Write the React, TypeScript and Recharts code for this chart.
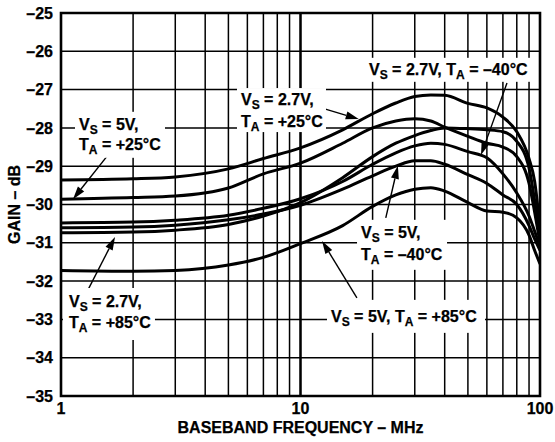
import React from "react";
import {
  LineChart,
  Line,
  XAxis,
  YAxis,
  CartesianGrid,
  ReferenceLine,
  ReferenceArea,
  ReferenceDot,
} from "recharts";

// gain vs baseband frequency, six supply/temperature corners
const freqs = [1, 2, 3, 5, 7, 10, 15, 20, 25, 30, 35, 40, 50, 60, 70, 80, 90, 95, 100];

const vs27Plus25 = [-29.36, -29.33, -29.28, -29.07, -28.8, -28.52, -28.05, -27.63, -27.35, -27.18, -27.14, -27.15, -27.36, -27.48, -27.72, -28.1, -28.8, -29.4, -30.6];
const vs5Plus25 = [-29.86, -29.82, -29.78, -29.57, -29.2, -28.92, -28.4, -28.0, -27.82, -27.76, -27.82, -27.98, -28.22, -28.4, -28.5, -28.75, -29.45, -30.2, -31.0];
const vs27Plus85 = [-30.74, -30.72, -30.67, -30.52, -30.3, -29.95, -29.3, -28.75, -28.4, -28.2, -28.07, -28.0, -28.02, -28.05, -28.1, -28.35, -29.05, -29.9, -30.9];
const vs27Minus40 = [-30.48, -30.46, -30.41, -30.28, -30.1, -29.85, -29.4, -28.95, -28.65, -28.47, -28.4, -28.43, -28.62, -28.78, -29.2, -29.7, -30.3, -30.7, -31.1];
const vs5Minus40 = [-30.61, -30.59, -30.54, -30.4, -30.25, -30.02, -29.6, -29.25, -29.0, -28.86, -28.86, -28.95, -29.22, -29.45, -29.75, -30.0, -30.55, -30.9, -31.2];
const vs5Plus85 = [-31.72, -31.74, -31.72, -31.58, -31.38, -31.02, -30.55, -30.05, -29.75, -29.6, -29.56, -29.65, -29.95, -30.17, -30.2, -30.35, -30.8, -31.2, -31.55];

const xTicks = [1, 2, 3, 4, 5, 6, 7, 8, 9, 10, 20, 30, 40, 50, 60, 70, 80, 90, 100];
const yTicks = [-35, -34, -33, -32, -31, -30, -29, -28, -27, -26, -25];

const rows = freqs.map((f, i) => ({
  f,
  a: vs27Plus25[i],
  b: vs5Plus25[i],
  c: vs27Plus85[i],
  d: vs27Minus40[i],
  e: vs5Minus40[i],
  f2: vs5Plus85[i],
}));

const FONT = "'Liberation Sans', Arial, Helvetica, sans-serif";

type Part = { v: string; s: string; rest: string };
type Note = { x: number; y: number; w: number; h: number; dx: number; lines: { dy: number; parts: Part[] }[] };

// label boxes, anchored at their top-left corner in data space
const notes: Note[] = [
  { x: 1.144, y: -27.58, w: 90, h: 46, dx: 4, lines: [
    { dy: 18, parts: [{ v: "V", s: "S", rest: " = 5V," }] },
    { dy: 38, parts: [{ v: "T", s: "A", rest: " = +25°C" }] },
  ] },
  { x: 5.43, y: -26.96, w: 89, h: 44, dx: 4, lines: [
    { dy: 17, parts: [{ v: "V", s: "S", rest: " = 2.7V," }] },
    { dy: 39, parts: [{ v: "T", s: "A", rest: " = +25°C" }] },
  ] },
  { x: 18.59, y: -26.17, w: 165, h: 24, dx: 4, lines: [
    { dy: 17, parts: [{ v: "V", s: "S", rest: " = 2.7V, " }, { v: "T", s: "A", rest: " = –40°C" }] },
  ] },
  { x: 17.22, y: -30.4, w: 90, h: 50, dx: 4, lines: [
    { dy: 18, parts: [{ v: "V", s: "S", rest: " = 5V," }] },
    { dy: 40, parts: [{ v: "T", s: "A", rest: " = –40°C" }] },
  ] },
  { x: 12.9, y: -32.49, w: 158, h: 33, dx: 4, lines: [
    { dy: 22, parts: [{ v: "V", s: "S", rest: " = 5V, " }, { v: "T", s: "A", rest: " = +85°C" }] },
  ] },
  { x: 1.019, y: -32.18, w: 92, h: 52, dx: 6, lines: [
    { dy: 19, parts: [{ v: "V", s: "S", rest: " = 2.7V," }] },
    { dy: 40, parts: [{ v: "T", s: "A", rest: " = +85°C" }] },
  ] },
];

// leader arrows: [from, tip]
const arrows = [
  [{ x: 1.57, y: -28.71 }, { x: 1.122, y: -29.86 }],
  [{ x: 11.83, y: -27.45 }, { x: 17.5, y: -27.77 }],
  [{ x: 72.8, y: -26.83 }, { x: 56.7, y: -28.71 }],
  [{ x: 22.7, y: -30.35 }, { x: 25.5, y: -28.99 }],
  [{ x: 1.296, y: -32.23 }, { x: 1.681, y: -30.85 }],
  [{ x: 17.2, y: -32.44 }, { x: 12.3, y: -30.95 }],
];

function NoteBox({ cx, cy, note }: any) {
  return (
    <g>
      <rect x={cx} y={cy} width={note.w} height={note.h} fill="#fff" />
      {note.lines.map((ln: any, i: number) => (
        <text
          key={i}
          x={cx + note.dx}
          y={cy + ln.dy}
          fontSize={16}
          fontWeight={700}
          fill="#000"
          stroke="#000"
          strokeWidth={0.25}
          fontFamily={FONT}
        >
          {ln.parts.map((p: Part, j: number) => (
            <React.Fragment key={j}>
              <tspan>{p.v}</tspan>
              <tspan dy={4} fontSize={12}>{p.s}</tspan>
              <tspan dy={-4}>{p.rest}</tspan>
            </React.Fragment>
          ))}
        </text>
      ))}
    </g>
  );
}

function Arrow({ x1, y1, x2, y2 }: any) {
  const ang = Math.atan2(y2 - y1, x2 - x1);
  const c = Math.cos(ang);
  const s = Math.sin(ang);
  const len = 13;
  const half = 4;
  const bx = x2 - len * c;
  const by = y2 - len * s;
  return (
    <g>
      <line x1={x1} y1={y1} x2={bx} y2={by} stroke="#000" strokeWidth={1.4} />
      <polygon
        points={`${x2},${y2} ${bx - s * half},${by + c * half} ${bx + s * half},${by - c * half}`}
        fill="#000"
      />
    </g>
  );
}

const fmtY = (v: number) => (v < 0 ? `–${Math.abs(v)}` : `${v}`);
const fmtX = (v: number) => ([1, 10, 100].includes(v) ? `${v}` : "");

export default function App() {
  const tickStyle = { fontSize: 16, fontWeight: 700, fill: "#000", stroke: "#000", strokeWidth: 0.25, fontFamily: FONT };
  const titleStyle = { fontSize: 16, fontWeight: 700, fill: "#000", stroke: "#000", strokeWidth: 0.25, fontFamily: FONT };
  return (
    <div style={{ position: "absolute", left: 0, top: 0, background: "#fff" }}>
      <LineChart width={555} height={442} data={rows} margin={{ top: 13, right: 15, left: 0, bottom: 0 }}>
        <CartesianGrid stroke="#000" strokeWidth={1.5} strokeOpacity={1} />
        <XAxis
          dataKey="f"
          type="number"
          scale="log"
          domain={[1, 100]}
          ticks={xTicks}
          interval={0}
          tickFormatter={fmtX}
          tickLine={false}
          axisLine={false}
          tickSize={0}
          tickMargin={7}
          height={46}
          tick={tickStyle}
          allowDataOverflow
          label={{ value: "BASEBAND FREQUENCY – MHz", position: "insideBottom", offset: 9, ...titleStyle }}
        />
        <YAxis
          type="number"
          domain={[-35, -25]}
          ticks={yTicks}
          interval={0}
          tickFormatter={fmtY}
          tickLine={false}
          axisLine={false}
          tickSize={0}
          tickMargin={8}
          width={61}
          tick={tickStyle}
          allowDataOverflow
          label={{ value: "GAIN – dB", angle: -90, position: "insideLeft", offset: 14, style: { textAnchor: "middle" }, ...titleStyle }}
        />
        <ReferenceLine x={10} stroke="#000" strokeWidth={2.4} />
        {notes.map((n, i) => (
          <ReferenceDot key={`n${i}`} x={n.x} y={n.y} r={0} shape={(p: any) => <NoteBox cx={p.cx} cy={p.cy} note={n} />} />
        ))}
        <Line dataKey="a" type="monotone" stroke="#000" strokeWidth={3} dot={false} isAnimationActive={false} />
        <Line dataKey="b" type="monotone" stroke="#000" strokeWidth={3} dot={false} isAnimationActive={false} />
        <Line dataKey="c" type="monotone" stroke="#000" strokeWidth={3} dot={false} isAnimationActive={false} />
        <Line dataKey="d" type="monotone" stroke="#000" strokeWidth={3} dot={false} isAnimationActive={false} />
        <Line dataKey="e" type="monotone" stroke="#000" strokeWidth={3} dot={false} isAnimationActive={false} />
        <Line dataKey="f2" type="monotone" stroke="#000" strokeWidth={3} dot={false} isAnimationActive={false} />
        {arrows.map((seg, i) => (
          <ReferenceLine key={`a${i}`} segment={seg} shape={(p: any) => <Arrow {...p} />} />
        ))}
        <ReferenceArea x1={1} x2={100} y1={-35} y2={-25} fill="none" fillOpacity={0} stroke="#000" strokeWidth={2.6} />
      </LineChart>
    </div>
  );
}
